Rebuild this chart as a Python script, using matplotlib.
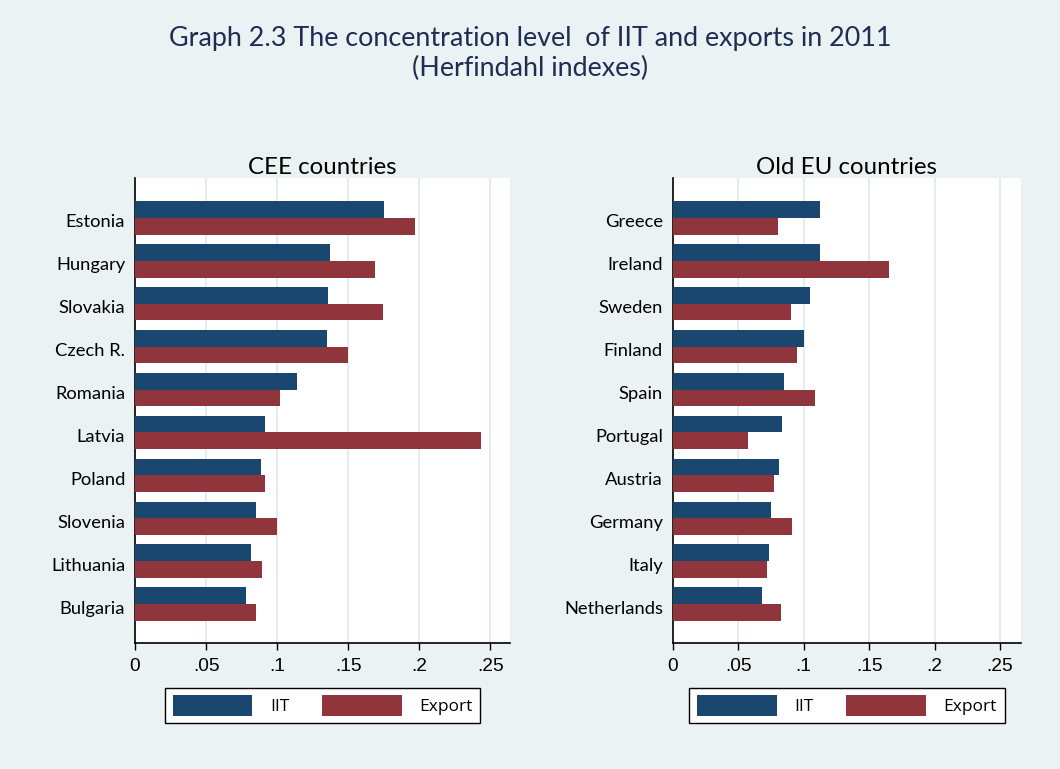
import matplotlib
matplotlib.use("Agg")
import matplotlib.pyplot as plt
import matplotlib.transforms as mtransforms
import numpy as np

# CEE countries
cee_countries = ["Estonia", "Hungary", "Slovakia", "Czech R.", "Romania",
                 "Latvia", "Poland", "Slovenia", "Lithuania", "Bulgaria"]
cee_iit = [0.175, 0.1375, 0.136, 0.135, 0.114, 0.0913, 0.0885, 0.085, 0.0814, 0.0784]
cee_export = [0.197, 0.169, 0.1747, 0.1497, 0.1017, 0.2436, 0.0918, 0.0996, 0.0892, 0.085]

# Old EU countries
eu_countries = ["Greece", "Ireland", "Sweden", "Finland", "Spain",
                "Portugal", "Austria", "Germany", "Italy", "Netherlands"]
eu_iit = [0.1126, 0.1126, 0.105, 0.1001, 0.0853, 0.0838, 0.0813, 0.0752, 0.0736, 0.068]
eu_export = [0.0805, 0.1655, 0.0907, 0.0952, 0.1088, 0.0578, 0.0777, 0.0909, 0.0723, 0.083]

xticks = [0, 0.05, 0.1, 0.15, 0.2, 0.25]
xticklabels = ["0", ".05", ".1", ".15", ".2", ".25"]

NAVY = "#1A476F"
MAROON = "#90353B"
BG = "#EAF2F3"
GRID = "#E4ECEF"

fig = plt.figure(figsize=(10.6, 7.69), dpi=100, facecolor=BG)

fig.text(0.5, 0.950, "Graph 2.3 The concentration level  of IIT and exports in 2011",
         ha="center", va="center", fontsize=19.4, family="Lato", color="#1F2D54")
fig.text(0.5, 0.911, "(Herfindahl indexes)",
         ha="center", va="center", fontsize=19.4, family="Lato", color="#1F2D54")


def panel(rect, names, iit, export, xmax, title):
    ax = fig.add_axes(rect)
    ax.set_facecolor("white")
    pos = np.arange(len(names))
    h = 0.39
    ax.barh(pos - h / 2, iit, height=h, color=NAVY, label="IIT", zorder=3)
    ax.barh(pos + h / 2, export, height=h, color=MAROON, label="Export", zorder=3)
    ax.set_ylim(len(names) - 1 + 0.9, -0.93)
    ax.set_xlim(0, xmax)
    ax.set_yticks(pos)
    ax.set_yticklabels(names, family="Lato", fontsize=13.2)
    ax.tick_params(axis="y", length=0, pad=7)
    # nudge category labels down a little, like the original
    shift = mtransforms.ScaledTranslation(0, -3 / 100, fig.dpi_scale_trans)
    for lab in ax.get_yticklabels():
        lab.set_transform(lab.get_transform() + shift)
    ax.set_xticks(xticks)
    ax.set_xticklabels(xticklabels, family="Liberation Sans", fontsize=13.8)
    ax.tick_params(axis="x", length=5, width=1, pad=6)
    ax.xaxis.grid(True, color=GRID, lw=1.5, zorder=0)
    for s in ["top", "right"]:
        ax.spines[s].set_visible(False)
    for s in ["left", "bottom"]:
        ax.spines[s].set_linewidth(1.2)
    ax.set_title(title, family="Lato", fontsize=17.3, pad=3)
    leg = ax.legend(loc="upper center", bbox_to_anchor=(0.5, -0.078), ncol=2,
                    frameon=True, fancybox=False, edgecolor="black", framealpha=1,
                    facecolor="white",
                    handlelength=4.6, handleheight=1.4, handletextpad=1.0,
                    columnspacing=1.9, borderpad=0.45,
                    prop={"family": "Open Sans", "size": 12.5})
    leg.get_frame().set_linewidth(1.0)
    return ax


panel([0.1274, 0.1642, 0.3538, 0.6043], cee_countries, cee_iit, cee_export, 0.264, "CEE countries")
panel([0.6346, 0.1642, 0.3286, 0.6043], eu_countries, eu_iit, eu_export, 0.266, "Old EU countries")

fig.savefig("out.png", dpi=100, facecolor=BG)
